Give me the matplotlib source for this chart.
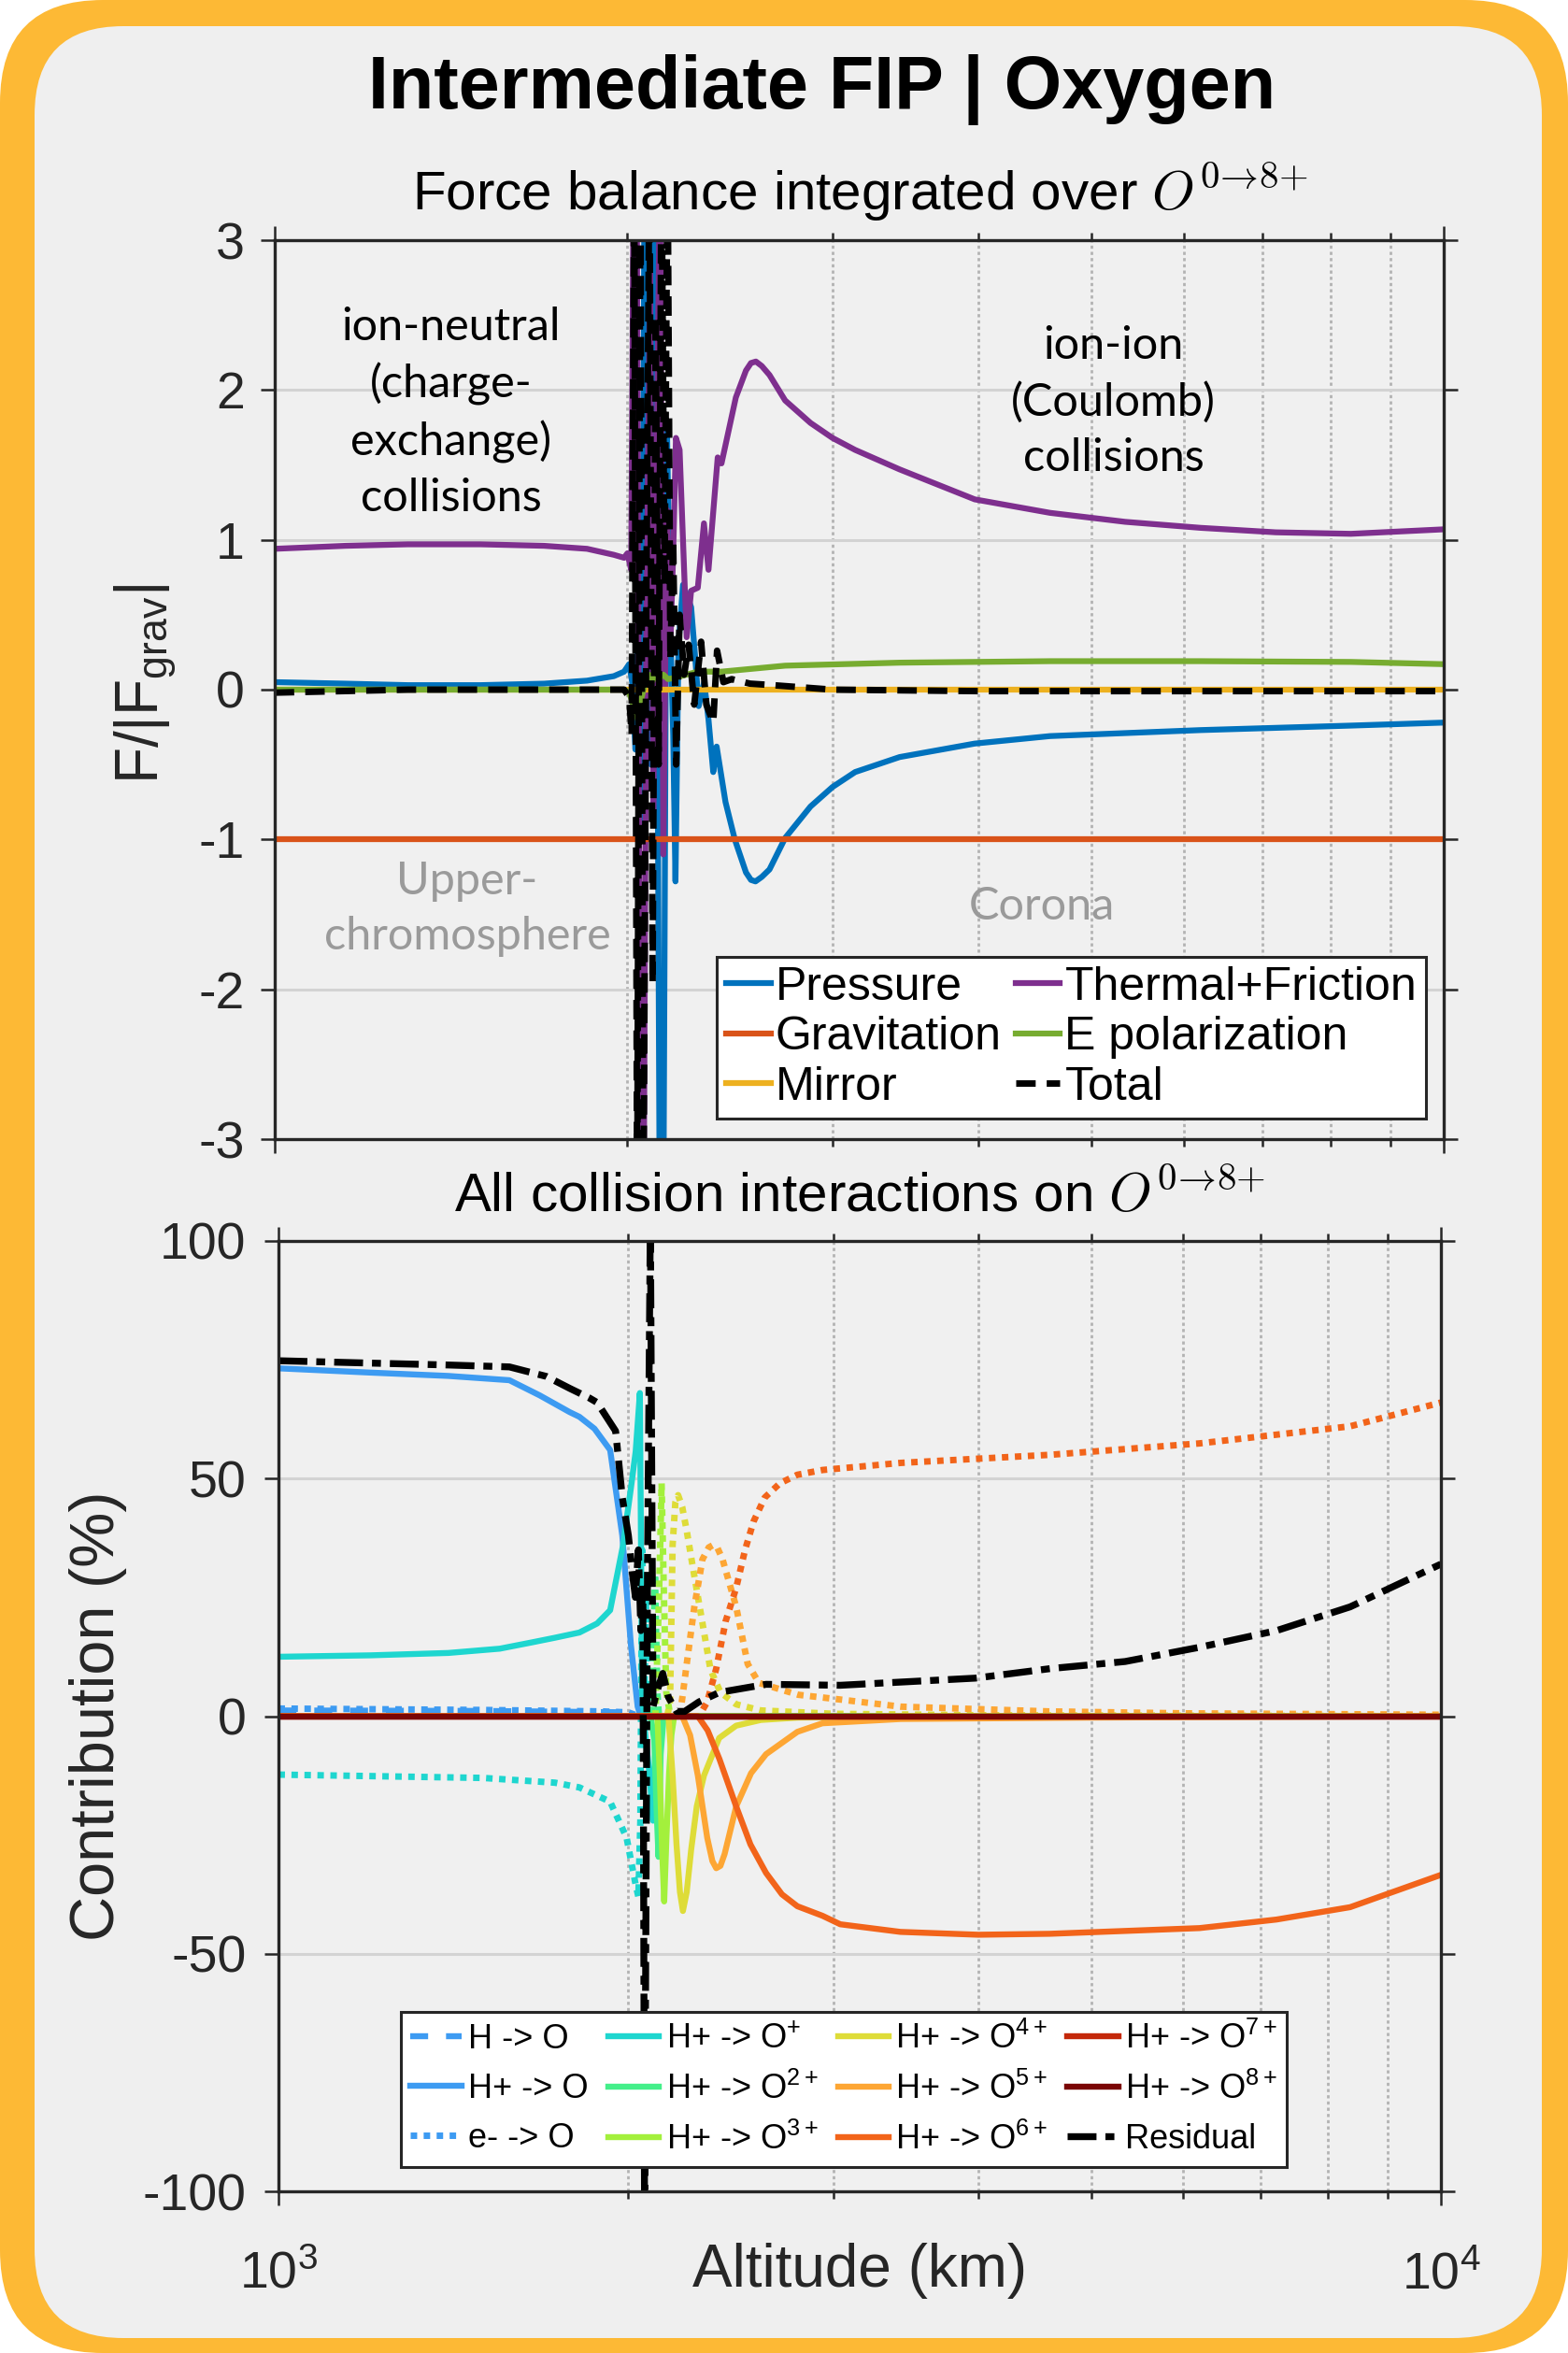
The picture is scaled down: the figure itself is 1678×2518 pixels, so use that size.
import numpy as np
import matplotlib
matplotlib.use("Agg")
from matplotlib import pyplot as plt
from matplotlib.patches import FancyBboxPatch
from matplotlib.ticker import FixedLocator, NullFormatter

plt.rcParams['font.family'] = ['Liberation Sans', 'DejaVu Sans']
plt.rcParams['mathtext.fontset'] = 'custom'
plt.rcParams['mathtext.rm'] = 'Liberation Sans'
plt.rcParams['mathtext.it'] = 'Liberation Sans:italic'
plt.rcParams['mathtext.bf'] = 'Liberation Sans:bold'
plt.rcParams['axes.unicode_minus'] = False

W, H = 1678, 2518
DPI = 100

# ---------------- top panel: force balance (F/|Fgrav|) ----------------
pressure_alt = [1000, 1150, 1300, 1500, 1700, 1850, 1950, 1990, 2010, 2022, 2035, 2048, 2060, 2072,
                2085, 2098, 2110, 2122, 2135, 2150, 2165, 2180, 2192, 2202, 2215, 2235, 2271, 2290,
                2305, 2330, 2350, 2372, 2388, 2430, 2475, 2530, 2555, 2578, 2610, 2650, 2733, 2873,
                3000, 3137, 3424, 3970, 4605, 6193, 8330, 10000]
pressure = [0.05, 0.04, 0.03, 0.03, 0.04, 0.06, 0.09, 0.12, 0.17, 0.05, -0.4, 0.6, -1.0, 3.6,
            3.6, -0.5, 3.6, 1.0, -3.6, -3.6, 1.78, 0.4, -0.3, -1.28, 0.3, 0.7, 0.55, 0.2,
            -0.11, 0.05, -0.2, -0.55, -0.38, -0.75, -1.0, -1.22, -1.27, -1.28, -1.25, -1.2, -0.99, -0.78,
            -0.65, -0.55, -0.45, -0.36, -0.31, -0.27, -0.24, -0.22]

thermal_alt = [1000, 1150, 1300, 1500, 1700, 1850, 1950, 1990, 2003, 2018, 2028, 2040, 2055, 2068,
               2080, 2094, 2108, 2122, 2136, 2150, 2165, 2180, 2192, 2204, 2220, 2251, 2271, 2301,
               2329, 2350, 2393, 2411, 2480, 2530, 2555, 2580, 2610, 2650, 2733, 2873, 3000, 3137,
               3424, 3970, 4605, 5340, 6193, 7183, 8330, 10000]
thermal = [0.94, 0.96, 0.97, 0.97, 0.96, 0.94, 0.90, 0.88, 0.91, 0.80, 3.6, 3.6, -3.6, -3.6,
           0.5, 2.8, -0.8, 1.5, 3.6, -1.1, 1.2, 0.3, 0.9, 1.68, 1.6, 0.35, 0.66, 0.68,
           1.11, 0.80, 1.55, 1.51, 1.95, 2.13, 2.18, 2.19, 2.16, 2.1, 1.93, 1.78, 1.68, 1.6,
           1.47, 1.27, 1.18, 1.12, 1.08, 1.05, 1.04, 1.07]

gravit_alt = [1000, 10000]
gravit = [-1.0, -1.0]

mirror_alt = [1000, 10000]
mirror = [0.0, 0.0]

epol_alt = [1000, 1500, 1990, 2010, 2030, 2047, 2060, 2075, 2090, 2105, 2120, 2135, 2150, 2170,
            2200, 2250, 2300, 2411, 2733, 3424, 4605, 6193, 8330, 10000]
epol = [0.0, 0.0, 0.0, -0.02, -0.12, -0.21, -0.05, 0.05, 0.1, 0.06, 0.12, 0.08, 0.1, 0.07,
        0.08, 0.1, 0.12, 0.12, 0.16, 0.18, 0.19, 0.19, 0.185, 0.17]

total_alt = [1000, 1300, 1700, 1990, 2010, 2020, 2030, 2042, 2055, 2067, 2080, 2092, 2105, 2118,
             2130, 2142, 2155, 2168, 2180, 2192, 2205, 2220, 2240, 2260, 2285, 2316, 2340, 2372,
             2390, 2420, 2460, 2550, 2666, 3000, 4000, 10000]
total = [-0.02, 0.0, 0.0, 0.0, -0.05, -0.3, 3.6, -3.6, 3.6, -3.6, 0.8, 3.6, -1.96, 2.5,
         -0.5, 3.6, 0.7, 3.6, 0.2, 1.0, -0.5, 0.5, 0.1, 0.3, -0.1, 0.32, -0.1, -0.22,
         0.26, 0.05, 0.07, 0.04, 0.03, 0.0, -0.01, -0.01]

# ---------------- bottom panel: collision contributions (%) ----------------
h_o_alt = [1000, 1500, 2000, 2040, 10000]
h_o = [1.2, 1.1, 0.8, 0.0, 0.0]
e_o_alt = [1000, 1500, 1900, 2000, 2040, 10000]
e_o = [1.6, 1.3, 1.0, 0.8, 0.0, 0.0]

hp_o_alt = [1000, 1200, 1400, 1580, 1678, 1780, 1815, 1870, 1929, 1976, 2010, 2037, 2050, 10000]
hp_o = [73.2, 72.3, 71.6, 70.7, 67.5, 64.0, 63.0, 60.5, 56.0, 38.0, 15.0, 2.0, 0.0, 0.0]

op1_alt = [1000, 1200, 1400, 1550, 1650, 1729, 1815, 1880, 1929, 1979, 2010, 2029, 2046, 2055,
           2070, 2085, 2100, 2112, 2130, 10000]
op1 = [12.5, 12.8, 13.3, 14.2, 15.5, 16.5, 17.6, 19.5, 22.3, 36.0, 48.0, 55.7, 68.0, 5.0,
       -5.0, -12.0, -22.0, -3.0, 0.0, 0.0]
op2_alt = [1000, 2090, 2105, 2115, 2123, 2132, 2145, 10000]
op2 = [0.0, 0.0, -5.0, -20.0, -29.6, -8.0, 0.0, 0.0]
op3_alt = [1000, 2118, 2128, 2138, 2147, 2157, 2168, 2178, 2190, 10000]
op3 = [0.0, 0.0, -12.0, -28.0, -39.0, -25.0, -12.0, -4.0, 0.0, 0.0]
op4_alt = [1000, 2165, 2183, 2200, 2215, 2228, 2245, 2265, 2290, 2323, 2394, 2476, 2600, 2800,
           3500, 10000]
op4 = [0.0, 0.0, -12.5, -27.0, -37.0, -41.0, -37.0, -28.0, -19.0, -12.5, -4.6, -2.0, -0.8, -0.3,
       0.0, 0.0]
op5_alt = [1000, 2225, 2260, 2295, 2338, 2362, 2380, 2400, 2420, 2476, 2550, 2627, 2795, 2937,
           3430, 5000, 10000]
op5 = [0.0, 0.0, -4.0, -12.5, -25.6, -30.5, -32.0, -31.5, -29.0, -19.0, -12.0, -8.0, -3.3, -1.5,
       -0.6, -0.3, 0.0]
op6_alt = [1000, 2295, 2340, 2395, 2476, 2547, 2627, 2711, 2795, 2937, 3043, 3428, 4000, 4610,
           5350, 6200, 7220, 8354, 10000]
op6 = [0.0, 0.0, -3.0, -9.0, -19.0, -27.0, -33.0, -37.5, -40.0, -42.0, -43.8, -45.4, -46.0,
       -45.8, -45.2, -44.6, -42.8, -40.2, -33.4]
op7_alt = [1000, 10000]
op7 = [0.0, 0.0]
op8_alt = [1000, 10000]
op8 = [0.0, 0.0]

# reverse contributions (dotted, not in legend)
op1r_alt = [1000, 1500, 1729, 1815, 1929, 1993, 2029, 2040, 2048, 2055, 2062, 2070, 2080, 10000]
op1r = [-12.3, -13.0, -14.0, -15.0, -18.0, -25.6, -35.5, -38.0, -22.0, 35.0, -10.0, 25.0, 0.0, 0.0]
op2r_alt = [1000, 2095, 2108, 2118, 2125, 10000]
op2r = [0.0, 0.0, 30.0, 5.0, 0.0, 0.0]
op3r_alt = [1000, 2110, 2125, 2136, 2146, 2156, 2170, 2200, 10000]
op3r = [0.0, 0.0, 25.0, 49.0, 25.0, 5.0, 1.0, 0.0, 0.0]
op4r_alt = [1000, 2160, 2172, 2183, 2195, 2207, 2225, 2245, 2279, 2316, 2353, 2400, 2476, 2600,
            3000, 4000, 10000]
op4r = [0.0, 0.0, 3.0, 36.0, 45.0, 46.5, 44.0, 39.0, 29.5, 19.6, 9.8, 5.0, 2.5, 1.2,
        0.5, 0.2, 0.0]
op5r_alt = [1000, 2215, 2245, 2279, 2316, 2345, 2365, 2385, 2410, 2476, 2533, 2590, 2800, 3043,
            3430, 4600, 6000, 10000]
op5r = [0.0, 0.0, 11.0, 23.0, 33.0, 35.5, 36.0, 35.5, 33.0, 23.0, 11.0, 7.0, 4.5, 3.5,
        2.0, 1.0, 0.6, 0.3]
op6r_alt = [1000, 2300, 2338, 2380, 2425, 2476, 2520, 2563, 2620, 2700, 2795, 2937, 3430, 4610,
            6200, 8354, 10000]
op6r = [0.0, 0.0, 3.0, 10.0, 20.0, 27.0, 35.0, 41.0, 46.0, 49.0, 50.8, 51.8, 53.3, 55.0,
        57.4, 61.0, 66.0]

resid_alt = [1000, 1200, 1400, 1580, 1700, 1780, 1850, 1880, 1950, 1976, 2000, 2016, 2028, 2040,
             2050, 2058, 2065, 2077, 2089, 2100, 2115, 2141, 2165, 2200, 2236, 2300, 2395, 2627,
             3043, 3976, 4610, 5350, 6200, 7220, 8354, 10000]
resid = [74.8, 74.3, 73.9, 73.5, 71.5, 69.0, 67.0, 66.0, 60.0, 46.0, 38.0, 30.0, 25.0, 35.0,
         18.0, 28.0, -105.0, 30.0, 105.0, 2.0, 5.0, 9.0, 4.0, 1.0, 1.0, 3.0, 5.0, 6.7,
         6.5, 8.0, 10.0, 11.5, 14.5, 18.0, 23.0, 32.0]

ion_colors = ['#1ED6CF', '#44EF8A', '#A3F03C', '#DEDC38', '#FDA634', '#F2641A', '#C4280A', '#7A0504']
blue_n = '#3D9BF2'


def px(x, y):
    return x / W, 1 - y / H


def style_axes(ax):
    ax.set_facecolor('#F0F0F0')
    ax.set_xscale('log')
    ax.set_xlim(1000, 10000)
    ax.xaxis.set_major_locator(FixedLocator([1000, 10000]))
    ax.xaxis.set_minor_locator(FixedLocator(list(range(2000, 10000, 1000))))
    ax.xaxis.set_minor_formatter(NullFormatter())
    ax.grid(True, axis='y', which='major', color='#D3D3D3', lw=2.2, ls='-')
    ax.grid(True, axis='x', which='minor', color='#B3B3B3', lw=2.0, ls=(0, (1.2, 1.2)))
    ax.set_axisbelow(True)
    for s in ax.spines.values():
        s.set_linewidth(2.4)
        s.set_color('#262626')
    ax.tick_params(which='both', direction='out', top=True, right=True, color='#262626',
                   width=1.8, labelsize=40, labelcolor='#262626')
    ax.tick_params(which='major', length=11)
    ax.tick_params(which='minor', length=6)


fig = plt.figure(figsize=(W / DPI, H / DPI), dpi=DPI, facecolor='white')

bg = fig.add_axes([0, 0, 1, 1], zorder=-10)
bg.set_xlim(0, W)
bg.set_ylim(H, 0)
bg.axis('off')
bg.add_patch(FancyBboxPatch((0, 0), W, H, boxstyle='round,pad=0,rounding_size=110',
                            fc='#FDB935', ec='none'))
bg.add_patch(FancyBboxPatch((37, 28), 1613, 2474, boxstyle='round,pad=0,rounding_size=95',
                            fc='#EFEFEF', ec='none'))

# ---- top axes
ax1 = fig.add_axes([294 / W, 1 - 1219 / H, 1251 / W, 962 / H])
style_axes(ax1)
ax1.set_ylim(-3, 3)
ax1.set_yticks([-3, -2, -1, 0, 1, 2, 3])
ax1.tick_params(axis='x', labelbottom=False)
ax1.tick_params(axis='y', pad=12)

lw = 4.5
l_p, = ax1.plot(pressure_alt, pressure, color='#0072BD', lw=lw, label='Pressure')
l_t, = ax1.plot(thermal_alt, thermal, color='#7E2F8E', lw=lw, label='Thermal+Friction')
l_g, = ax1.plot(gravit_alt, gravit, color='#D95319', lw=lw, label='Gravitation')
l_m, = ax1.plot(mirror_alt, mirror, color='#EDB120', lw=lw, label='Mirror')
l_e, = ax1.plot(epol_alt, epol, color='#77AC30', lw=lw, label='E polarization')
l_tot, = ax1.plot(total_alt, total, color='black', lw=5.0, dashes=(3.0, 1.7), label='Total')

ax1.set_ylabel(r'F/|F$_{\rm grav}$|', fontsize=46, color='#262626')
ax1.yaxis.label.set_va('center')
ax1.yaxis.set_label_coords(-0.11, 0.507)

leg1 = ax1.legend([l_p, l_g, l_m, l_t, l_e, l_tot],
                  ['Pressure', 'Gravitation', 'Mirror', 'Thermal+Friction', 'E polarization', 'Total'],
                  ncol=2, loc='lower right', bbox_to_anchor=(0.985, 0.023), fontsize=36,
                  handlelength=0.95, handletextpad=0.1, columnspacing=0.3, labelspacing=0.15,
                  borderpad=0.2, borderaxespad=0, fancybox=False, framealpha=1, edgecolor='#262626')
leg1.get_frame().set_linewidth(2.2)

ann = dict(family=['Lato', 'DejaVu Sans'], fontsize=35, ha='center', va='center', linespacing=1.42)
ax1.text(1416, 1.85, 'ion-neutral\n(charge-\nexchange)\ncollisions', color='black', **ann)
ax1.text(5220, 1.92, 'ion-ion\n(Coulomb)\ncollisions', color='black', **ann)
ax1.text(1461, -1.46, 'Upper-\nchromosphere', color='#9A9A9A', **ann)
ax1.text(4530, -1.45, 'Corona', color='#9A9A9A', **ann)

# ---- bottom axes
ax2 = fig.add_axes([298 / W, 1 - 2345 / H, 1244 / W, 1017 / H])
style_axes(ax2)
ax2.set_ylim(-100, 100)
ax2.set_yticks([-100, -50, 0, 50, 100])
ax2.tick_params(axis='y', pad=14)
ax2.tick_params(axis='x', pad=35)

dot = dict(lw=5.0, dashes=(1, 1), dash_capstyle='butt')
ax2.plot(op1r_alt, op1r, color=ion_colors[0], **dot)
ax2.plot(op2r_alt, op2r, color=ion_colors[1], **dot)
ax2.plot(op3r_alt, op3r, color=ion_colors[2], **dot)
ax2.plot(op4r_alt, op4r, color=ion_colors[3], **dot)
ax2.plot(op5r_alt, op5r, color=ion_colors[4], **dot)
ax2.plot(op6r_alt, op6r, color=ion_colors[5], **dot)

slw = 4.6
h1, = ax2.plot(h_o_alt, h_o, color=blue_n, lw=slw, dashes=(3, 3), label='H -> O')
h2, = ax2.plot(hp_o_alt, hp_o, color=blue_n, lw=slw, label='H+ -> O')
h3, = ax2.plot(e_o_alt, e_o, color=blue_n, label='e- -> O', **dot)
ion_alts = [op1_alt, op2_alt, op3_alt, op4_alt, op5_alt, op6_alt, op7_alt, op8_alt]
ion_vals = [op1, op2, op3, op4, op5, op6, op7, op8]
ion_labels = ['H+ -> O$^{+}$', 'H+ -> O$^{2+}$', 'H+ -> O$^{3+}$', 'H+ -> O$^{4+}$',
              'H+ -> O$^{5+}$', 'H+ -> O$^{6+}$', 'H+ -> O$^{7+}$', 'H+ -> O$^{8+}$']
ion_handles = []
for a, v, c, lab in zip(ion_alts, ion_vals, ion_colors, ion_labels):
    hh, = ax2.plot(a, v, color=c, lw=slw, label=lab)
    ion_handles.append(hh)
h_res, = ax2.plot(resid_alt, resid, color='black', lw=5.3, dashes=(4.2, 1.3, 1.3, 1.3), label='Residual')

ax2.set_ylabel('Contribution (%)', fontsize=48, color='#262626')
ax2.yaxis.label.set_va('center')
ax2.yaxis.set_label_coords(-0.155, 0.5)
ax2.set_xlabel('Altitude (km)', fontsize=46, color='#262626')
ax2.xaxis.label.set_va('center')
ax2.xaxis.set_label_coords(0.5, -0.0836)

handles2 = [h1, h2, h3] + ion_handles + [h_res]
leg2 = ax2.legend(handles2, [h.get_label() for h in handles2], ncol=4, loc='lower left',
                  bbox_to_anchor=(0.105, 0.0256), fontsize=26, handlelength=1.5,
                  handletextpad=0.2, columnspacing=0.6, labelspacing=0.5, borderpad=0.3,
                  borderaxespad=0, fancybox=False, framealpha=1, edgecolor='#262626')
leg2.get_frame().set_linewidth(2.2)

# ---- titles
sup = r'$O^{0\!{\rightarrow}\!8{+}}$'
fig.text(*px(880, 96), 'Intermediate FIP | Oxygen', ha='center', va='center',
         fontsize=57, fontweight='bold', color='black')
fig.text(*px(920, 206), 'Force balance integrated over ' + sup, ha='center',
         va='center', fontsize=42, math_fontfamily='cm', color='black')
fig.text(*px(920, 1280), 'All collision interactions on ' + sup, ha='center',
         va='center', fontsize=42, math_fontfamily='cm', color='black')

fig.savefig('out.png', dpi=DPI, facecolor='white')
